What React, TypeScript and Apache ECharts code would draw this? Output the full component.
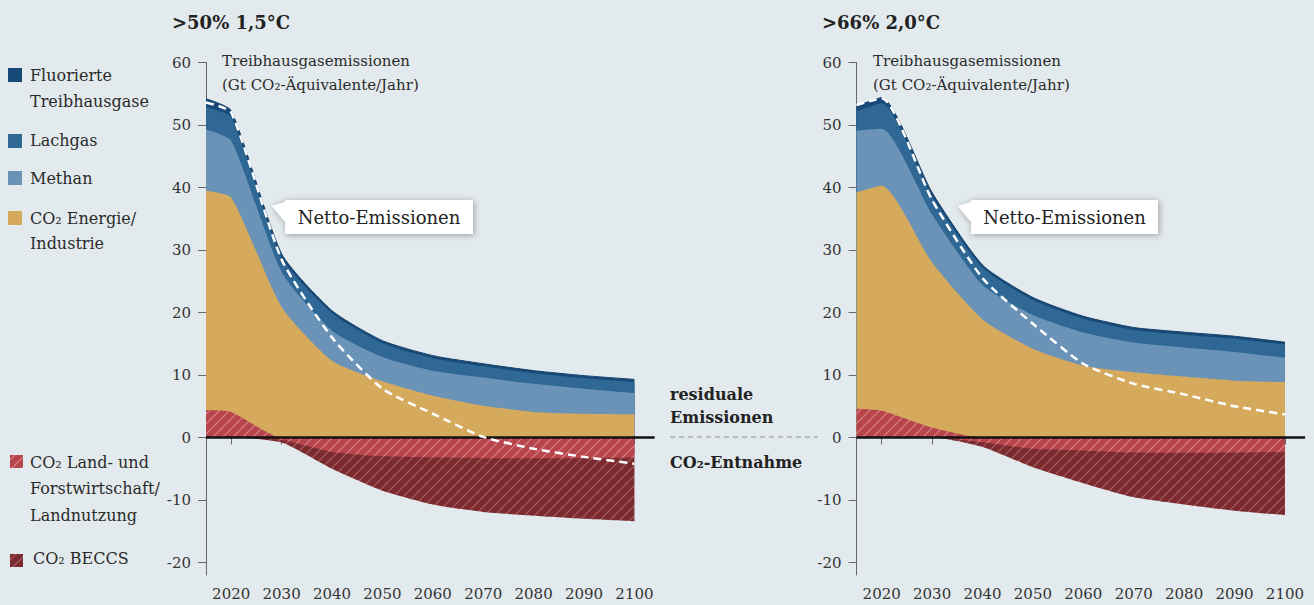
import React, { useEffect, useRef } from "react";
import * as echarts from "echarts";

// ---------- data ----------
const years = [2015, 2020, 2030, 2040, 2050, 2060, 2070, 2080, 2090, 2100];
const xTickYears = [2020, 2030, 2040, 2050, 2060, 2070, 2080, 2090, 2100];
const yTickValues = [-20, -10, 0, 10, 20, 30, 40, 50, 60];

// >50% 1,5°C
const landA = [4.4, 4.1, -0.4, -2.3, -3.0, -3.2, -3.3, -3.3, -3.3, -3.2];
const beccsA = [0, 0, -0.4, -2.7, -5.5, -7.5, -8.6, -9.2, -9.7, -10.2];
const energyA = [35.1, 34.3, 20.9, 12.3, 9.0, 6.7, 5.1, 4.1, 3.8, 3.7];
const methanA = [9.8, 9.1, 5.6, 4.8, 3.9, 4.0, 4.5, 4.5, 4.0, 3.4];
const lachgasA = [3.5, 3.8, 2.3, 2.8, 2.2, 2.0, 1.8, 1.7, 1.7, 1.8];
const fgasA = [1.4, 1.0, 0.6, 0.4, 0.4, 0.4, 0.4, 0.4, 0.4, 0.4];
const netA = [53.6, 52.0, 28.5, 16.0, 7.8, 3.8, 0.1, -1.8, -3.1, -4.2];

// >66% 2,0°C
const landB = [4.6, 4.3, 1.6, -0.75, -1.8, -2.1, -2.4, -2.45, -2.4, -2.35];
const beccsB = [0, 0, 0, -0.75, -2.95, -5.2, -7.15, -8.25, -9.3, -10.05];
const energyB = [34.65, 36.0, 26.4, 18.9, 14.2, 11.5, 10.45, 9.75, 9.1, 8.85];
const methanB = [9.85, 9.1, 7.7, 5.5, 5.4, 5.3, 4.75, 4.65, 4.6, 3.9];
const lachgasB = [3.1, 4.1, 2.9, 2.8, 2.4, 2.2, 2.0, 2.05, 2.1, 2.1];
const fgasB = [0.8, 0.9, 0.6, 0.4, 0.4, 0.4, 0.4, 0.4, 0.4, 0.4];
const netB = [53.2, 54.3, 38.0, 25.5, 18.2, 11.8, 8.6, 6.9, 5.0, 3.7];

const panelTitles = [">50% 1,5°C", ">66% 2,0°C"];
const legendNames = [
  ["Fluorierte", "Treibhausgase"],
  ["Lachgas"],
  ["Methan"],
  ["CO₂ Energie/", "Industrie"],
  ["CO₂ Land- und", "Forstwirtschaft/", "Landnutzung"],
  ["CO₂ BECCS"],
];

// ---------- styles ----------
const BG = "#e3eaed";
const C_F = "#174a78";
const C_N2O = "#2f6895";
const C_CH4 = "#6b93b8";
const C_CO2 = "#d5aa5d";
const C_LAND = "#b8444c";
const C_BECCS = "#7b2b2f";
const FONT = '"DejaVu Serif", serif';
const TXT = "#2a2a2a";

function makeHatch(bg: string, stripe: string) {
  const c = document.createElement("canvas");
  c.width = 10;
  c.height = 10;
  const ctx = c.getContext("2d")!;
  ctx.fillStyle = bg;
  ctx.fillRect(0, 0, 10, 10);
  ctx.strokeStyle = stripe;
  ctx.lineWidth = 1.1;
  ctx.beginPath();
  ctx.moveTo(0, 10);
  ctx.lineTo(10, 0);
  ctx.moveTo(-1, 1);
  ctx.lineTo(1, -1);
  ctx.moveTo(9, 11);
  ctx.lineTo(11, 9);
  ctx.stroke();
  return { image: c, repeat: "repeat" };
}

const pair = (vals: number[]) => years.map((y, i) => [y, vals[i]]);
const addArr = (a: number[], b: number[]) => a.map((v, i) => v + b[i]);

function buildPanel(idx: number, d: any, hatchLand: any, hatchBeccs: any) {
  const base = {
    type: "line",
    xAxisIndex: idx,
    yAxisIndex: idx,
    symbol: "none",
    smooth: 0.2,
    silent: true,
    z: 2,
  };
  const area = (name: string, vals: number[], fill: any, col: string, lineStyle?: any) => ({
    ...base,
    name,
    data: pair(vals),
    lineStyle: lineStyle || { width: 0, color: col },
    itemStyle: { color: col },
    areaStyle: { color: fill, opacity: 1, origin: 0 },
  });
  // cumulative layers (drawn from outermost to innermost so inner ones paint on top)
  const landPos = d.land.map((v: number) => Math.max(v, 0));
  const landNeg = d.land.map((v: number) => Math.min(v, 0));
  const cEnergy = addArr(landPos, d.energy);
  const cMethan = addArr(cEnergy, d.methan);
  const cLachgas = addArr(cMethan, d.lachgas);
  const cF = addArr(cLachgas, d.fgas);
  const cBeccs = addArr(landNeg, d.beccs);
  return [
    area("Fluorierte Treibhausgase", cF, C_F, C_F, { width: 1, color: "#143f68" }),
    area("Lachgas", cLachgas, C_N2O, C_N2O),
    area("Methan", cMethan, C_CH4, C_CH4),
    area("CO₂ Energie/Industrie", cEnergy, C_CO2, C_CO2),
    area("CO₂ Land (+)", landPos, hatchLand, C_LAND),
    area("CO₂ BECCS", cBeccs, hatchBeccs, C_BECCS),
    area("CO₂ Land (-)", landNeg, hatchLand, C_LAND),
    {
      ...base,
      name: "zero",
      data: [],
      z: 4,
      markLine: {
        silent: true,
        symbol: ["none", "none"],
        label: { show: false },
        lineStyle: { color: "#111", width: 2.5, type: "solid" },
        data: [{ yAxis: 0 }],
      },
    },
    {
      ...base,
      name: "Netto-Emissionen",
      z: 6,
      data: pair(d.net),
      lineStyle: { color: "#ffffff", width: 2.5, type: [8, 5] },
      itemStyle: { color: "#ffffff" },
    },
  ];
}

const gridLefts = [206, 856.5];
const gridW = 448.6;
const gridTop = 62.5;
const gridH = 512.5;

export default function App() {
  const ref = useRef<HTMLDivElement>(null);
  useEffect(() => {
    if (!ref.current) return;
    const chart = echarts.init(ref.current, null, { renderer: "svg" });
    const hatchLand = makeHatch(C_LAND, "rgba(255,215,215,0.45)");
    const hatchBeccs = makeHatch(C_BECCS, "rgba(255,200,200,0.35)");

    const panels = [
      { land: landA, beccs: beccsA, energy: energyA, methan: methanA, lachgas: lachgasA, fgas: fgasA, net: netA },
      { land: landB, beccs: beccsB, energy: energyB, methan: methanB, lachgas: lachgasB, fgas: fgasB, net: netB },
    ];

    const grids = gridLefts.map((l) => ({ left: l, top: gridTop, width: gridW, height: gridH }));
    const xAxes = gridLefts.map((_, i) => ({
      type: "value",
      gridIndex: i,
      min: 2015,
      max: 2104,
      axisLine: { show: false },
      splitLine: { show: false },
      axisTick: { show: true, length: 7, lineStyle: { color: "#666" }, customValues: xTickYears },
      axisLabel: {
        customValues: xTickYears,
        formatter: (v: number) => String(v),
        fontFamily: FONT,
        fontSize: 15,
        color: "#333",
        margin: 11,
      },
    }));
    const yAxes = gridLefts.map((_, i) => ({
      type: "value",
      gridIndex: i,
      min: -22,
      max: 60,
      axisLine: { show: true, lineStyle: { color: "#666", width: 1 } },
      splitLine: { show: false },
      axisTick: { show: true, length: 8, lineStyle: { color: "#666" }, customValues: yTickValues },
      axisLabel: {
        customValues: yTickValues,
        formatter: (v: number) => String(v),
        fontFamily: FONT,
        fontSize: 15,
        color: "#333",
        margin: 15,
      },
    }));

    const series: any[] = [];
    panels.forEach((p, i) => series.push(...buildPanel(i, p, hatchLand, hatchBeccs)));

    const txt = (text: string, x: number, y: number, size: number, opts: any = {}) => ({
      type: "text",
      z: 101,
      silent: true,
      style: {
        text,
        x,
        y,
        font: `${opts.bold ? "bold " : ""}${size}px ${FONT}`,
        fill: opts.fill || TXT,
        textAlign: opts.align || "left",
        textVerticalAlign: "middle",
      },
    });

    const graphic: any[] = [];
    graphic.push(txt(panelTitles[0], 172, 22, 18, { bold: true, fill: "#222" }));
    graphic.push(txt(panelTitles[1], 822, 22, 18, { bold: true, fill: "#222" }));
    [222, 873].forEach((x) => {
      graphic.push(txt("Treibhausgasemissionen", x, 61, 15));
      graphic.push(txt("(Gt CO₂-Äquivalente/Jahr)", x, 85, 15));
    });
    const callout = (bx0: number, bx1: number, tipX: number) => {
      graphic.push({
        type: "polygon",
        z: 100,
        silent: true,
        shape: {
          points: [
            [bx0, 200],
            [bx1, 200],
            [bx1, 234],
            [bx0, 234],
            [bx0, 222],
            [tipX, 206],
            [bx0, 202],
          ],
        },
        style: {
          fill: "#ffffff",
          shadowBlur: 6,
          shadowColor: "rgba(0,0,0,0.35)",
          shadowOffsetX: 1,
          shadowOffsetY: 1,
        },
      });
      graphic.push(txt("Netto-Emissionen", (bx0 + bx1) / 2, 217, 18, { align: "center", fill: "#222" }));
    };
    callout(285, 473, 272);
    callout(971, 1158, 958);

    const legendItems = [
      { fill: C_F, sq: [8, 68, 14], lines: legendNames[0], ys: [75, 101], tx: 30 },
      { fill: C_N2O, sq: [8, 134, 14], lines: legendNames[1], ys: [140], tx: 30 },
      { fill: C_CH4, sq: [8, 171, 14], lines: legendNames[2], ys: [178], tx: 30 },
      { fill: C_CO2, sq: [8, 211, 14], lines: legendNames[3], ys: [218, 243], tx: 30 },
      { fill: hatchLand, sq: [10, 455, 13], lines: legendNames[4], ys: [462, 488, 515], tx: 30 },
      { fill: hatchBeccs, sq: [10, 554, 13], lines: legendNames[5], ys: [558], tx: 33 },
    ];
    legendItems.forEach((it) => {
      graphic.push({
        type: "rect",
        z: 100,
        silent: true,
        shape: { x: it.sq[0], y: it.sq[1], width: it.sq[2], height: it.sq[2] },
        style: { fill: it.fill },
      });
      it.lines.forEach((l: string, k: number) => graphic.push(txt(l, it.tx, it.ys[k], 16)));
    });

    graphic.push(txt("residuale", 670, 394, 16, { bold: true, fill: "#222" }));
    graphic.push(txt("Emissionen", 670, 417, 16, { bold: true, fill: "#222" }));
    graphic.push({
      type: "line",
      z: 100,
      silent: true,
      shape: { x1: 670, y1: 437, x2: 818, y2: 437 },
      style: { stroke: "#8a8f93", lineWidth: 1, lineDash: [5, 4] },
    });
    graphic.push(txt("CO₂-Entnahme", 670, 462, 16, { bold: true, fill: "#222" }));

    chart.setOption({
      animation: false,
      backgroundColor: BG,
      grid: grids,
      xAxis: xAxes,
      yAxis: yAxes,
      series,
      graphic,
    });
    return () => chart.dispose();
  }, []);
  return (
    <div
      ref={ref}
      style={{ position: "absolute", left: 0, top: 0, width: 1314, height: 605 }}
    />
  );
}
